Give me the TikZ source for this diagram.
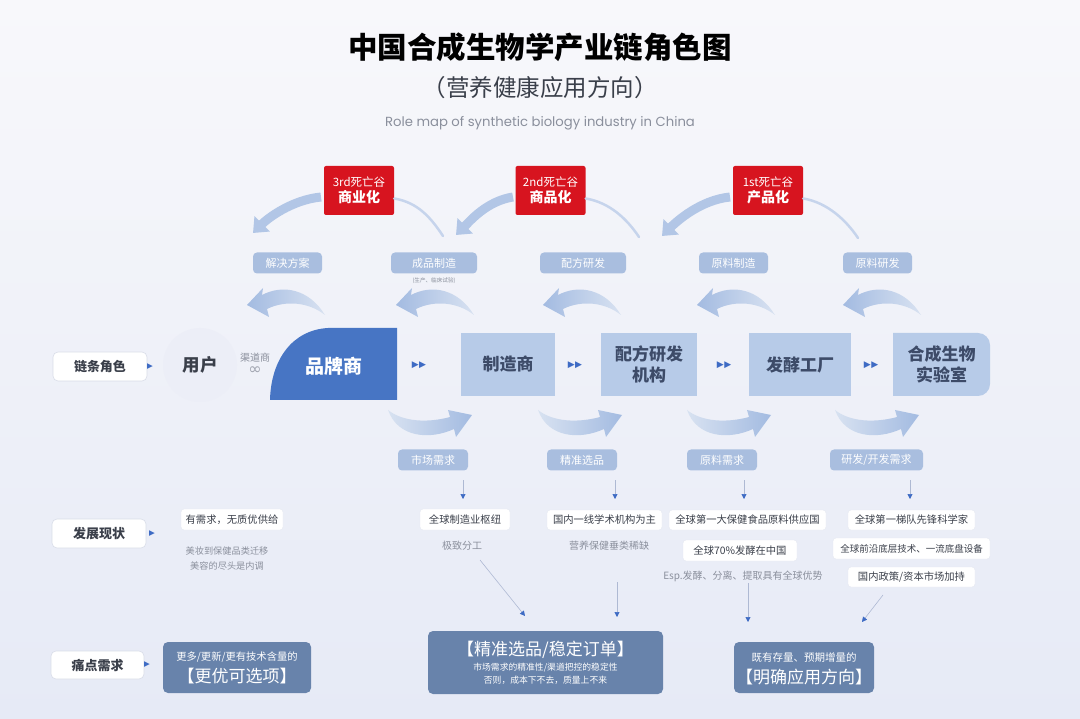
\documentclass[tikz,border=0pt]{standalone}
\usepackage{fontspec}
\setmainfont{Noto Sans CJK SC}
\newfontfamily\pop{Poppins}
\newfontfamily\dv{DejaVu Sans}
\usetikzlibrary{arrows.meta}
\newcommand\myfs[1]{\fontsize{#1}{#1}\selectfont}
\definecolor{bgtop}{HTML}{F8F8FB}
\definecolor{bgbot}{HTML}{E6EAF6}
\definecolor{redbox}{HTML}{D7141F}
\definecolor{pill}{HTML}{A9BEDF}
\definecolor{mainbox}{HTML}{B7CBE8}
\definecolor{maintext}{HTML}{3D4B68}
\definecolor{brand}{HTML}{4775C4}
\definecolor{slate}{HTML}{6883AB}
\definecolor{arrowblue}{HTML}{B2C6E6}
\definecolor{arclight}{HTML}{C6D4EC}
\definecolor{tri}{HTML}{3E6BC4}
\definecolor{graytext}{HTML}{8A8F9C}
\definecolor{darktext}{HTML}{3A3F4A}
\definecolor{userfill}{HTML}{ECEEF7}
\definecolor{thinline}{HTML}{AEB9D3}
\definecolor{wborder}{HTML}{E4E7F0}
\definecolor{sborder}{HTML}{D9DDE8}
\definecolor{arrL}{HTML}{A3BBE1}
\definecolor{arrR}{HTML}{D8E2F1}
\tikzset{
  leftarr/.pic={\path[left color=arrL,right color=arrR]
    (0,20) -- (16,3) -- (15,10) .. controls (36,-1) and (62,4) .. (78,30)
    .. controls (62,17) and (38,15) .. (20,24) -- (22,32) -- cycle;},
  rightarr/.pic={\path[left color=arrR,right color=arrL]
    (0,0) .. controls (15,12) and (40,13) .. (62,7) -- (60,0) -- (84,5)
    -- (68,27) -- (66,19) .. controls (42,30) and (10,28) .. (0,0) -- cycle;}
}
\begin{document}
\begin{tikzpicture}[x=1pt,y=-1pt,
  pillbox/.style={fill=pill,rounded corners=4pt,text=white,font=\myfs{11},inner sep=0pt,minimum height=21pt},
  mainb/.style={fill=mainbox,text=maintext,font=\fontsize{17}{21}\selectfont\bfseries,minimum height=63pt,inner sep=0pt,align=center},
  whitebox/.style={fill=white,rounded corners=3pt,draw=wborder,line width=0.4pt,text=darktext,font=\myfs{10.3},inner sep=0pt,minimum height=21pt},
  sidelab/.style={fill=white,draw=sborder,line width=0.6pt,rounded corners=5pt,font=\myfs{13}\bfseries,text=darktext,minimum width=94pt,minimum height=29pt,inner sep=0pt},
  graynote/.style={text=graytext,font=\myfs{9.5},inner sep=0pt,align=center},
  slatebox/.style={fill=slate,rounded corners=5pt,inner sep=0pt},
  slatetext/.style={text=white,inner sep=0pt},
  redb/.style={fill=redbox,rounded corners=2pt,text=white,align=center,minimum width=70pt,minimum height=49pt,inner sep=0pt},
  tinyarr/.style={draw=thinline,line width=0.6pt,-{Triangle[width=5pt,length=5pt,color=tri]}},
  marker/.style={text=tri,font=\dv\myfs{9},inner sep=0pt},
  bigarc/.style={draw=arrowblue,line width=9pt,-{Triangle[width=21pt,length=13pt]}},
  thinarc/.style={draw=arclight,line width=2.5pt,line cap=round}
]
\useasboundingbox (0,0) rectangle (1080,719);
\shade[top color=bgtop,bottom color=bgbot] (0,0) rectangle (1080,719);

% titles
\node[font=\myfs{29.5}\bfseries,text=black] (title) at (540,47) {中国合成生物学产业链角色图};
\node[font=\myfs{23.5},text=darktext] (subtitle) at (540,88) {（营养健康应用方向）};
\node[font=\pop\myfs{13.2},text=graytext] (eng) at (540,123) {Role map of synthetic biology industry in China};

% red boxes
\node[redb] (r3) at (359,190.5) {{\myfs{11.5}3rd死亡谷}\\[2pt]{\myfs{14}\bfseries 商业化}};
\node[redb] (r2) at (550.5,190.5) {{\myfs{11.5}2nd死亡谷}\\[2pt]{\myfs{14}\bfseries 商品化}};
\node[redb] (r1) at (768,190.5) {{\myfs{11.5}1st死亡谷}\\[2pt]{\myfs{14}\bfseries 产品化}};

% arcs above
\coordinate (a3s) at (321,197); \coordinate (a3e) at (253,233);
\coordinate (a2s) at (513,197); \coordinate (a2e) at (456,235);
\coordinate (a1s) at (730,197); \coordinate (a1e) at (662,236);
\draw[bigarc] (a3s) .. controls +(-30,3) and +(14,-14) .. (a3e);
\draw[bigarc] (a2s) .. controls +(-26,4) and +(14,-14) .. (a2e);
\draw[bigarc] (a1s) .. controls +(-30,3) and +(14,-14) .. (a1e);
\coordinate (t3e) at (443,236);
\coordinate (t2e) at (639,237);
\coordinate (t1e) at (858,238);
\draw[thinarc] ([yshift=-8pt]r3.east) .. controls +(24,4) and +(-12,-18) .. (t3e);
\draw[thinarc] ([yshift=-8pt]r2.east) .. controls +(24,4) and +(-12,-18) .. (t2e);
\draw[thinarc] ([yshift=-8pt]r1.east) .. controls +(24,4) and +(-12,-18) .. (t1e);

% pills row 1
\node[pillbox,minimum width=69pt] (p1) at (287.5,263) {解决方案};
\node[pillbox,minimum width=86pt] (p2) at (434,263) {成品制造};
\node[pillbox,minimum width=86pt] (p3) at (583,263) {配方研发};
\node[pillbox,minimum width=69pt] (p4) at (733.5,263) {原料制造};
\node[pillbox,minimum width=69pt] (p5) at (877.5,263) {原料研发};
\node[text=graytext,font=\myfs{5.6},inner sep=0pt] (p2n) at (434,281) {(生产、临床试验)};

% left arrows
\pic at (247,285) {leftarr};
\pic at (396,285) {leftarr};
\pic at (543,285) {leftarr};
\pic at (697,285) {leftarr};
\pic at (843,285) {leftarr};

% main row
\node[sidelab] (L1) at (100,366.5) {链条角色};
\node[marker,font=\dv\myfs{7.5}] (L1m) at (150,366.5) {▶};
\fill[userfill] (200,365) circle (37);
\node[font=\myfs{17.5}\bfseries,text=darktext,inner sep=0pt] (user) at (200,365) {用户};
\node[text=graytext,font=\myfs{10},inner sep=0pt] (chan) at (255,358) {渠道商};
\node[text=graytext!80,font=\dv\myfs{16},inner sep=0pt] (inf) at (255,371) {∞};
\fill[brand] (270,400) -- (397,400) -- (397,328) -- (328,328) .. controls (292,330) and (271,360) .. (270,400) -- cycle;
\node[text=white,font=\myfs{19}\bfseries,inner sep=0pt] (brandt) at (334,366) {品牌商};
\node[marker] (m1) at (419,365) {▶\kern0.5pt▶};
\node[mainb,minimum width=94pt] (mfg) at (508,364.5) {制造商};
\node[marker] (m2) at (575,365) {▶\kern0.5pt▶};
\node[mainb,minimum width=96pt] (form) at (649,364.5) {配方研发\\机构};
\node[marker] (m3) at (724,365) {▶\kern0.5pt▶};
\node[mainb,minimum width=102pt] (ferm) at (800,364.5) {发酵工厂};
\node[marker] (m4) at (871,365) {▶\kern0.5pt▶};
\fill[mainbox] (893,333) [rounded corners=12pt] -- (990,333) -- (990,396) [sharp corners] -- (893,396) -- cycle;
\node[text=maintext,font=\fontsize{17}{21}\selectfont\bfseries,align=center,inner sep=0pt] (lab) at (941.5,364.5) {合成生物\\实验室};

% right arrows
\pic at (388,410) {rightarr};
\pic at (538,410) {rightarr};
\pic at (687,410) {rightarr};
\pic at (835,410) {rightarr};

% pills row 2
\node[pillbox,minimum width=70pt] (q1) at (433,460) {市场需求};
\node[pillbox,minimum width=70pt] (q2) at (582,460) {精准选品};
\node[pillbox,minimum width=70pt] (q3) at (722,460) {原料需求};
\node[pillbox,minimum width=93pt] (q4) at (876.5,460) {研发/开发需求};

% status row
\node[sidelab] (L2) at (99,533.5) {发展现状};
\node[marker,font=\dv\myfs{7.5}] (L2m) at (152,533.5) {▶};
\node[whitebox,minimum width=102pt] (w1) at (232,519.5) {有需求，无质优供给};
\node[whitebox,minimum width=90pt] (w2) at (465,519.5) {全球制造业枢纽};
\node[whitebox,minimum width=115pt,minimum height=20pt] (w3) at (604.5,520) {国内一线学术机构为主};
\node[whitebox,minimum width=157pt,minimum height=20pt] (w4) at (747.5,520) {全球第一大保健食品原料供应国};
\node[whitebox,minimum width=127pt,minimum height=20pt] (w5) at (911.5,520) {全球第一梯队先锋科学家};
\node[whitebox,minimum width=114pt] (w6) at (740,550.5) {全球70\%发酵在中国};
\node[whitebox,minimum width=157pt,font=\myfs{9.5}] (w7) at (911.5,548.5) {全球前沿底层技术、一流底盘设备};
\node[whitebox,minimum width=127pt,minimum height=20pt] (w8) at (911.5,577) {国内政策/资本市场加持};
\node[graynote,font=\fontsize{9.2}{15}\selectfont] (g1) at (227,558.5) {美妆到保健品类迁移\\美容的尽头是内调};
\node[graynote,font=\myfs{10}] (g3) at (462,546) {极致分工};
\node[graynote,font=\myfs{10}] (g4) at (609,546) {营养保健垂类稀缺};
\node[graynote,font=\myfs{10}] (g5) at (743,576) {Esp.发酵、分离、提取具有全球优势};

% down arrows
\coordinate (d1s) at (463,480); \coordinate (d1e) at (463,499);
\coordinate (d2s) at (615,480); \coordinate (d2e) at (615,499);
\coordinate (d3s) at (744,480); \coordinate (d3e) at (744,499);
\coordinate (d4s) at (910,480); \coordinate (d4e) at (910,499);
\draw[tinyarr] (d1s) -- (d1e);
\draw[tinyarr] (d2s) -- (d2e);
\draw[tinyarr] (d3s) -- (d3e);
\draw[tinyarr] (d4s) -- (d4e);

\coordinate (e1s) at (480,560); \coordinate (e1e) at (525,616);
\coordinate (e2s) at (617,582); \coordinate (e2e) at (617,617);
\coordinate (e3s) at (748,583); \coordinate (e3e) at (748,622);
\coordinate (e4s) at (883,595); \coordinate (e4e) at (862,622);
\draw[tinyarr] (e1s) -- (e1e);
\draw[tinyarr] (e2s) -- (e2e);
\draw[tinyarr] (e3s) -- (e3e);
\draw[tinyarr] (e4s) -- (e4e);

% pain row
\node[sidelab,minimum width=93pt,minimum height=28pt] (L3) at (97.5,665) {痛点需求};
\node[marker,font=\dv\myfs{7.5}] (L3m) at (147,665) {▶};
\node[slatebox,minimum width=148pt,minimum height=51pt] (b1) at (237,667.5) {};
\node[slatetext,font=\myfs{10.3}] (b1a) at (237,657) {更多/更新/更有技术含量的};
\node[slatetext,font=\myfs{17}] (b1b) at (237,676) {【更优可选项】};
\node[slatebox,minimum width=235pt,minimum height=63pt] (b2) at (545.5,662.5) {};
\node[slatetext,font=\myfs{17}] (b2a) at (545.5,650) {【精准选品/稳定订单】};
\node[slatetext,font=\myfs{8.8}] (b2b) at (545.5,668) {市场需求的精准性/渠道把控的稳定性};
\node[slatetext,font=\myfs{8.8}] (b2c) at (545.5,680) {否则，成本下不去，质量上不来};
\node[slatebox,minimum width=140pt,minimum height=51pt] (b3) at (804,667.5) {};
\node[slatetext,font=\myfs{10.5}] (b3a) at (804,658) {既有存量、预期增量的};
\node[slatetext,font=\myfs{17}] (b3b) at (804,677) {【明确应用方向】};
\end{tikzpicture}
\end{document}
